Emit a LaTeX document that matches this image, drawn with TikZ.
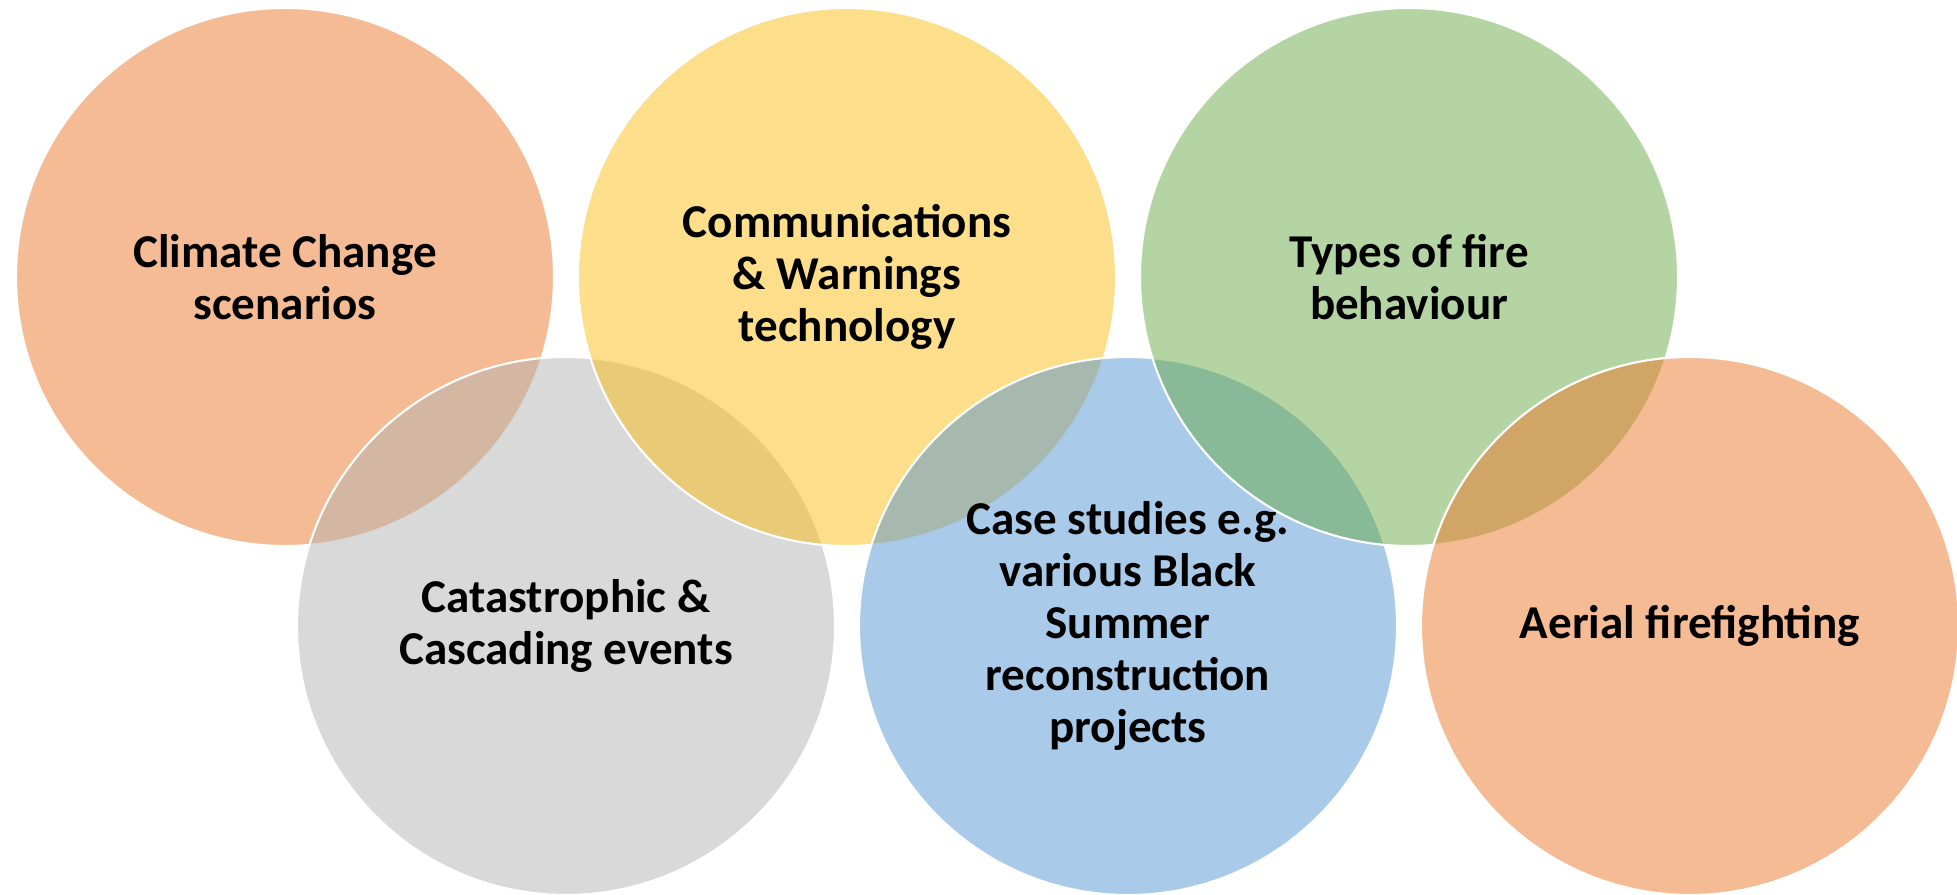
\documentclass[tikz,border=0pt]{standalone}
\usepackage{fontspec}
\setmainfont{Carlito}
\usepackage{xcolor}
\definecolor{RingOrange}{HTML}{EB7829}
\definecolor{RingGray}{HTML}{B3B3B3}
\definecolor{RingYellow}{HTML}{F9BD18}
\definecolor{RingBlue}{HTML}{5395D2}
\definecolor{RingGreen}{HTML}{6AAA47}
\usepackage{tikz}
\tikzset{
  % Ring styles
  ring/.style={circle, draw=white, line width=0.6pt, fill opacity=0.5, minimum size=5.38cm, inner sep=0pt},
  % Label styles
  ringlabel/.style={align=center, text=black, font=\fontsize{13.4pt}{14.8pt}\selectfont\bfseries}
}

\begin{document}
\begin{tikzpicture}
  \useasboundingbox (0,0) rectangle (19.57,8.95);

  % Rings, drawn left to right
  \foreach \i/\x/\y/\col in {1/2.85/6.18/RingOrange, 2/5.66/2.69/RingGray, 3/8.47/6.18/RingYellow, 4/11.28/2.69/RingBlue, 5/14.09/6.18/RingGreen, 6/16.90/2.69/RingOrange} {
    \node[ring, fill=\col] (ring\i) at (\x,\y) {};
  }

  % Labels on top
  \node[ringlabel] (label1) at (ring1.center) {Climate Change\\scenarios};
  \node[ringlabel] (label2) at (ring2.center) {Catastrophic \&\\Cascading events};
  \node[ringlabel] (label3) at (ring3.center) {Communications\\\& Warnings\\technology};
  \node[ringlabel] (label4) at (ring4.center) {Case studies e.g.\\various Black\\Summer\\reconstruction\\projects};
  \node[ringlabel] (label5) at (ring5.center) {Types of fire\\behaviour};
  \node[ringlabel] (label6) at (ring6.center) {Aerial firefighting};
\end{tikzpicture}
\end{document}
